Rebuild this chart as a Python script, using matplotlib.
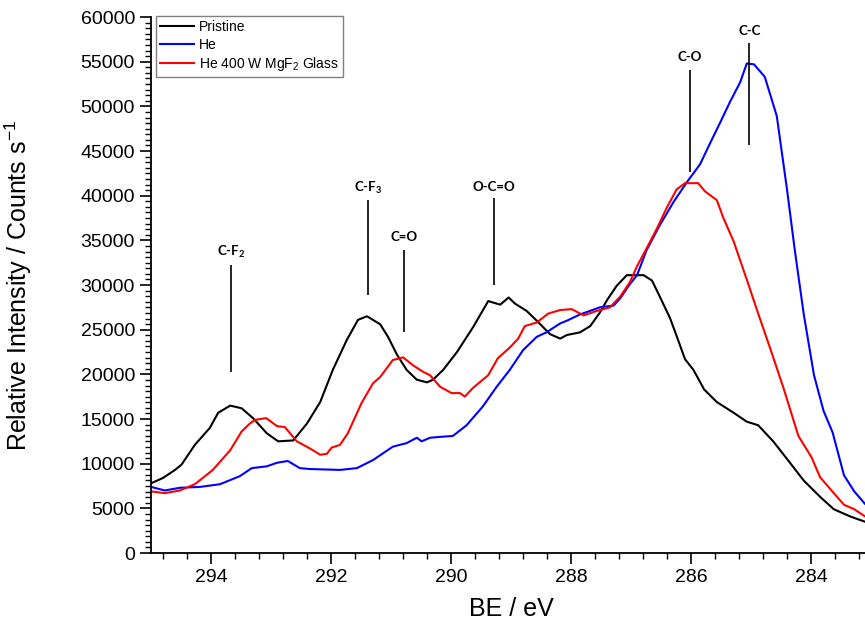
import matplotlib
matplotlib.use("Agg")
import matplotlib.pyplot as plt
from matplotlib.ticker import MultipleLocator

plt.rcParams['font.family'] = ['Liberation Sans', 'DejaVu Sans']
plt.rcParams['mathtext.default'] = 'regular'

# Pristine
be_pristine = [295.0, 294.8, 294.6, 294.49, 294.27, 294.02, 293.88, 293.68, 293.49, 293.3,
               293.07, 292.88, 292.63, 292.4, 292.18, 291.97, 291.74, 291.55, 291.4, 291.18,
               291.05, 290.9, 290.74, 290.57, 290.4, 290.3, 290.13, 289.9, 289.63, 289.38,
               289.18, 289.04, 288.93, 288.74, 288.57, 288.35, 288.18, 288.07, 287.85, 287.68,
               287.52, 287.4, 287.24, 287.07, 286.79, 286.65, 286.52, 286.35, 286.24, 286.1,
               285.96, 285.78, 285.57, 285.29, 285.07, 284.88, 284.63, 284.35, 284.12, 283.85,
               283.62, 283.35, 283.1, 282.9]
int_pristine = [7800, 8400, 9300, 9900, 12100, 14000, 15700, 16500, 16200, 15100,
                13400, 12500, 12600, 14500, 16900, 20500, 23800, 26100, 26500, 25600,
                24200, 22200, 20500, 19400, 19100, 19400, 20500, 22500, 25300, 28200,
                27800, 28600, 27900, 27100, 26000, 24500, 24000, 24400, 24700, 25400,
                26900, 28300, 29900, 31100, 31100, 30500, 28700, 26300, 24300, 21700,
                20500, 18300, 16900, 15700, 14700, 14300, 12500, 10100, 8100, 6300,
                4900, 4100, 3500, 3300]

# He
be_he = [295.0, 294.77, 294.52, 294.18, 293.85, 293.52, 293.32, 293.07, 292.9, 292.72,
         292.52, 292.35, 291.85, 291.57, 291.3, 290.97, 290.74, 290.57, 290.49, 290.35,
         290.18, 289.97, 289.74, 289.47, 289.24, 289.02, 288.8, 288.57, 288.41, 288.18,
         288.07, 287.85, 287.52, 287.29, 287.18, 287.04, 286.9, 286.74, 286.52, 286.29,
         286.07, 285.85, 285.68, 285.52, 285.35, 285.18, 285.07, 284.95, 284.77, 284.57,
         284.4, 284.27, 284.12, 283.95, 283.79, 283.64, 283.45, 283.28, 283.1, 282.9]
int_he = [7400, 7000, 7300, 7400, 7700, 8600, 9500, 9700, 10100, 10300,
          9500, 9400, 9300, 9500, 10400, 11900, 12300, 12900, 12500, 12900,
          13000, 13100, 14300, 16400, 18600, 20500, 22700, 24200, 24700, 25700,
          26000, 26700, 27500, 27700, 28500, 29900, 31100, 33900, 36700, 39300,
          41500, 43500, 45900, 48100, 50500, 52700, 54800, 54700, 53300, 48900,
          40700, 33900, 26700, 19900, 15900, 13500, 8700, 6900, 5500, 4500]

# He 400 W MgF2 glass
be_mgf2 = [295.0, 294.77, 294.52, 294.27, 294.1, 293.97, 293.68, 293.49, 293.35, 293.27,
           293.08, 292.9, 292.77, 292.57, 292.35, 292.18, 292.07, 291.99, 291.85, 291.72,
           291.49, 291.3, 291.18, 290.97, 290.8, 290.63, 290.47, 290.35, 290.18, 289.99,
           289.85, 289.77, 289.63, 289.38, 289.22, 289.02, 288.88, 288.77, 288.57, 288.38,
           288.18, 287.99, 287.79, 287.57, 287.35, 287.18, 287.02, 286.9, 286.74, 286.57,
           286.4, 286.24, 286.1, 285.88, 285.77, 285.57, 285.46, 285.29, 285.07, 284.88,
           284.68, 284.46, 284.21, 283.99, 283.85, 283.62, 283.45, 283.28, 283.1, 282.9]
int_mgf2 = [6900, 6700, 7000, 7700, 8600, 9300, 11500, 13600, 14500, 14900,
            15100, 14200, 14100, 12500, 11700, 11000, 11100, 11800, 12100, 13400,
            16800, 19000, 19700, 21600, 21900, 21000, 20300, 19900, 18600, 17900,
            17900, 17500, 18500, 19900, 21800, 23000, 24000, 25400, 25800, 26800,
            27200, 27300, 26600, 27100, 27500, 28700, 30300, 32100, 34100, 36300,
            38700, 40700, 41400, 41400, 40500, 39500, 37500, 34900, 30600, 26800,
            22900, 18500, 13100, 10700, 8500, 6700, 5400, 4900, 4100, 3700]

# peak assignments: label, position, line bottom, line top, label height
peak_labels = ['C-F$_2$', 'C-F$_3$', 'C=O', 'O-C=O', 'C-O', 'C-C']
peak_be = [293.67, 291.38, 290.78, 289.28, 286.02, 285.03]
line_low = [20300, 28900, 24700, 30000, 42600, 45700]
line_high = [32200, 39500, 33900, 39700, 54100, 57100]
label_y = [33700, 40900, 35400, 41000, 55500, 58400]

fig = plt.figure(figsize=(8.65, 6.35), dpi=100)
ax = fig.add_axes([151/865, 1 - 553/635, 720/865, 536/635])

ax.plot(be_pristine, int_pristine, color='black', lw=1.5, label='Pristine')
ax.plot(be_he, int_he, color='#0000ff', lw=1.5, label='He')
ax.plot(be_mgf2, int_mgf2, color='#ff0000', lw=1.5, label='He 400 W MgF$_2$ Glass')

for lab, x, y0, y1, ty in zip(peak_labels, peak_be, line_low, line_high, label_y):
    ax.vlines(x, y0, y1, color='black', lw=1.2)
    ax.text(x, ty, lab, ha='center', va='center', fontsize=9.5,
            fontweight='bold', family=['Lato', 'DejaVu Sans'])

ax.set_xlim(295, 283)
ax.set_ylim(0, 60000)
ax.xaxis.set_major_locator(MultipleLocator(2))
ax.xaxis.set_minor_locator(MultipleLocator(0.4))
ax.yaxis.set_major_locator(MultipleLocator(5000))
ax.yaxis.set_minor_locator(MultipleLocator(625))

ax.spines['top'].set_visible(False)
ax.spines['right'].set_visible(False)
for s in ['left', 'bottom']:
    ax.spines[s].set_linewidth(1.3)
ax.tick_params(which='major', direction='out', length=8, width=1.2, labelsize=14)
ax.tick_params(which='minor', direction='out', length=4.5, width=1.0)

ax.set_xlabel('BE / eV', fontsize=18)
ax.set_ylabel('Relative Intensity / Counts s$^{-1}$', fontsize=18)
ax.xaxis.set_label_coords(360/720, -0.082)
ax.yaxis.set_label_coords(-0.163, 0.5)

leg = ax.legend(loc='upper left', bbox_to_anchor=(0.007, 1.002), borderaxespad=0,
                fontsize=10, handlelength=2.4, handletextpad=0.4, borderpad=0.3,
                labelspacing=0.25, fancybox=False, framealpha=1, edgecolor='#808080')
leg.get_frame().set_linewidth(1.0)

fig.savefig('out.png', dpi=100)
